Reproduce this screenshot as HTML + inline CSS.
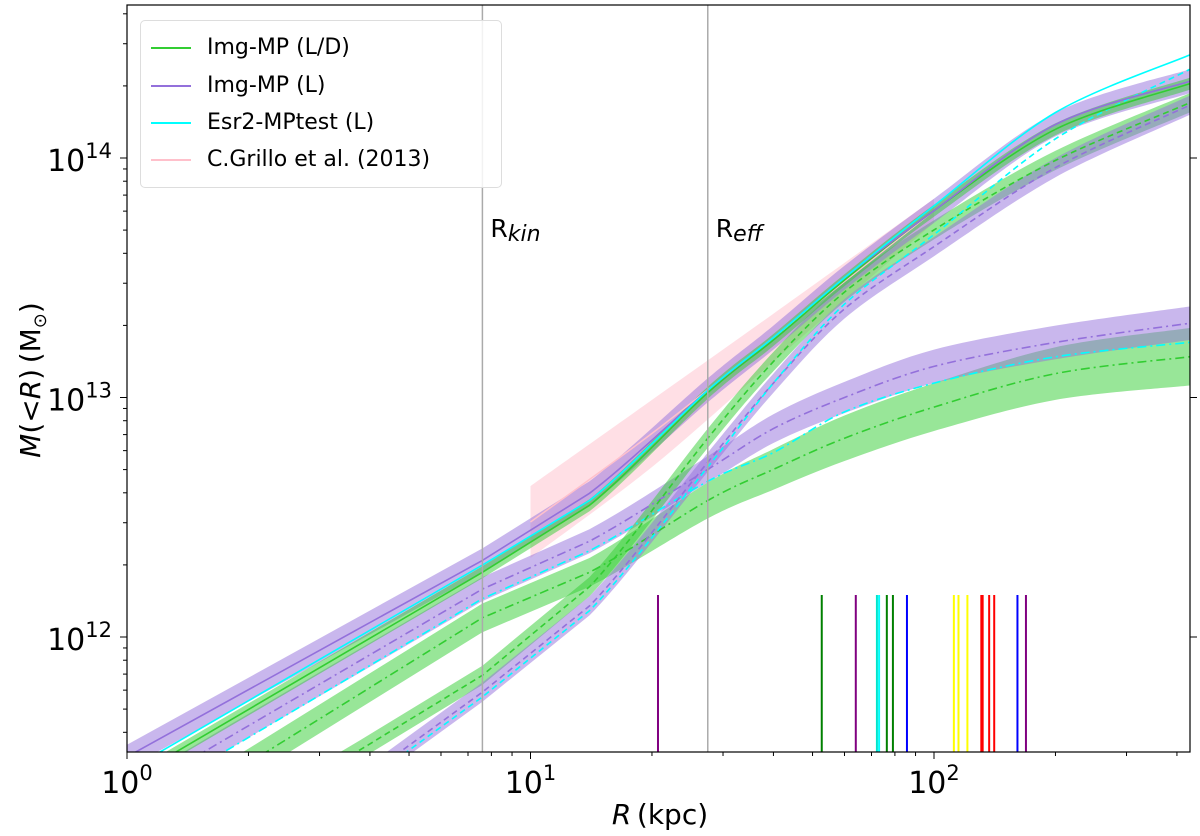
<!DOCTYPE html>
<html><head><meta charset="utf-8"><style>
html,body{margin:0;padding:0;background:#fff;width:1200px;height:836px;overflow:hidden;position:relative;}
svg{display:block;font-family:"DejaVu Sans","Liberation Sans",sans-serif;}
</style></head><body>
<svg id="chart" width="1200" height="836" viewBox="0 0 1200 836" style="position:absolute;left:0;top:0;">
<defs><clipPath id="clip"><rect x="127" y="5" width="1063" height="747"/></clipPath></defs>
<g id="plot" clip-path="url(#clip)"></g>
<g id="axes"></g>
</svg>
<script>
// ---- data (R in kpc, values are log10 M / Msun) ----
const solidR = [1, 7.6, 14, 27.5, 40, 60, 100, 200, 430];
const purpleSolid = [11.50, 12.32, 12.60, 13.03, 13.25, 13.50, 13.78, 14.14, 14.32];
const cyanSolid   = [11.44, 12.30, 12.57, 13.03, 13.25, 13.50, 13.80, 14.19, 14.43];
const greenSolid  = [11.40, 12.27, 12.55, 13.02, 13.24, 13.49, 13.78, 14.12, 14.31];

const dashR = [1, 3.79, 7.6, 14, 27.5, 40, 60, 100, 200, 430];
const greenDash  = [10.95, 11.53, 11.84, 12.21, 12.83, 13.15, 13.44, 13.70, 13.99, 14.23];
const purpleDash = [10.86, 11.40, 11.77, 12.13, 12.73, 13.06, 13.37, 13.63, 13.96, 14.22];
const cyanDash   = [10.84, 11.38, 11.75, 12.11, 12.71, 13.06, 13.39, 13.68, 14.08, 14.37];

const ddR = [1, 1.7, 7.6, 14, 27.5, 40, 60, 100, 200, 430];
const purpleDD = [11.33, 11.56, 12.20, 12.40, 12.70, 12.87, 13.00, 13.13, 13.23, 13.31];
const cyanDD   = [11.29, 11.51, 12.16, 12.36, 12.65, 12.77, 12.94, 13.06, 13.17, 13.23];
const greenDD  = [11.21, 11.40, 12.08, 12.27, 12.57, 12.70, 12.83, 12.96, 13.10, 13.17];
const purpleDDwidth = [0.05, 0.05, 0.05, 0.05, 0.055, 0.06, 0.065, 0.07, 0.07, 0.07];
const greenDDwidth  = [0.06, 0.06, 0.06, 0.06, 0.075, 0.085, 0.095, 0.1, 0.11, 0.12];

const grilloR = [10, 20, 40, 100];
const grilloC = [12.48, 12.85, 13.25, 13.78];
const grilloW = [0.15, 0.14, 0.10, 0.05];

const refR = [7.6, 27.5];
const refLabels = ["kin", "eff"];
const markerR = [20.7, 52.7, 64.0, 72.2, 73.1, 76.4, 79.1, 85.7, 112, 115, 121, 131, 132, 137, 141, 161, 169];
const markerColors = ["purple","green","purple","#00e5cc","cyan","green","green","blue","yellow","yellow","yellow","red","red","red","red","blue","purple"];

const xTicks = [0, 1, 2];
const yTicks = [12, 13, 14];

// ---- axes ----
const X0 = 127, XD = 403.5, Y14 = 158, YD = 239.5;
const xs = r => X0 + Math.log10(r) * XD;
const ys = lm => Y14 - (lm - 14) * YD;
const XK = xs(14.5);
const NS = "http://www.w3.org/2000/svg";
const plot = document.getElementById('plot');
const axes = document.getElementById('axes');
function mk(tag, attrs, parent) {
  const e = document.createElementNS(NS, tag);
  for (const k in attrs) e.setAttribute(k, attrs[k]);
  parent.appendChild(e);
  return e;
}
// straight segments at small R, smooth (Catmull-Rom) beyond
function smooth(pts, start) {
  let d = (start ? 'M' : 'L') + pts[0][0].toFixed(1) + ',' + pts[0][1].toFixed(1);
  for (let i = 0; i < pts.length - 1; i++) {
    const p1 = pts[i], p2 = pts[i + 1];
    if (Math.max(p1[0], p2[0]) <= XK) { d += 'L' + p2[0].toFixed(1) + ',' + p2[1].toFixed(1); continue; }
    const p0 = pts[Math.max(0, i - 1)], p3 = pts[Math.min(pts.length - 1, i + 2)];
    const t = 0.16;
    const c1 = [p1[0] + (p2[0] - p0[0]) * t, p1[1] + (p2[1] - p0[1]) * t];
    const c2 = [p2[0] - (p3[0] - p1[0]) * t, p2[1] - (p3[1] - p1[1]) * t];
    d += 'C' + c1[0].toFixed(1) + ',' + c1[1].toFixed(1) + ' ' + c2[0].toFixed(1) + ',' + c2[1].toFixed(1) + ' ' + p2[0].toFixed(1) + ',' + p2[1].toFixed(1);
  }
  return d;
}
const pts = (R, V) => R.map((r, i) => [xs(r), ys(V[i])]);
function band(R, V, W, color, name) {
  const w = i => Array.isArray(W) ? W[i] : W;
  const hi = pts(R, V.map((v, i) => v + w(i)));
  const lo = pts(R, V.map((v, i) => v - w(i))).reverse();
  const p = mk('path', {d: smooth(hi, true) + smooth(lo, false) + 'Z', fill: color, 'fill-opacity': 0.5, stroke: 'none'}, plot);
  
  
}
function line(R, V, color, dash, name, wdt) {
  const p = mk('path', {d: smooth(pts(R, V), true), fill: 'none', stroke: color, 'stroke-width': wdt || 1.6, 'stroke-dasharray': dash || 'none'}, plot);
  
  
}
const G = '#32cd32', P = '#9370db', C = '#00ffff', K = '#ffc0cb';
band(grilloR, grilloC, grilloW, K, 'grillo-band');
band(ddR, greenDD, greenDDwidth, G, 'green-dashdot-band');
band(ddR, purpleDD, purpleDDwidth, P, 'purple-dashdot-band');
band(dashR, greenDash, 0.04, G, 'green-dashed-band');
band(dashR, purpleDash, 0.04, P, 'purple-dashed-band');
band(solidR, purpleSolid, 0.05, P, 'purple-solid-band');
band(solidR, greenSolid, 0.025, G, 'green-solid-band');
line(grilloR, grilloC, K, null, 'grillo-line', 1.5);
line(ddR, greenDD, G, '9,4,2,4', 'green-dashdot-line');
line(ddR, purpleDD, P, '9,4,2,4', 'purple-dashdot-line');
line(ddR, cyanDD, C, '9,4,2,4', 'cyan-dashdot-line');
line(dashR, greenDash, G, '6,4', 'green-dashed-line');
line(dashR, purpleDash, P, '6,4', 'purple-dashed-line');
line(dashR, cyanDash, C, '6,4', 'cyan-dashed-line');
line(solidR, greenSolid, G, null, 'green-solid-line');
line(solidR, purpleSolid, P, null, 'purple-solid-line');
line(solidR, cyanSolid, C, null, 'cyan-solid-line');
refR.forEach((r, i) => {
  const l = mk('line', {x1: xs(r), x2: xs(r), y1: 5, y2: 752, stroke: '#aaa', 'stroke-width': 1.5}, plot);
  
  
  const t = mk('text', {x: xs(r) + 8, y: 237, 'font-size': 25, fill: '#000'}, axes);
  
  
  t.textContent = 'R';
  const s = mk('tspan', {'font-style': 'italic', 'font-size': 22, dy: 4}, t);
  s.textContent = refLabels[i];
});
markerR.forEach((r, i) => {
  const l = mk('line', {x1: xs(r), x2: xs(r), y1: 595, y2: 752, stroke: markerColors[i], 'stroke-width': 2}, plot);
  
  
});
const fr = mk('rect', {x: 127, y: 5, width: 1063, height: 747, fill: 'none', stroke: '#000', 'stroke-width': 1.2}, axes);


for (let d = 0; d <= 2; d++) for (let m = 1; m <= 9; m++) {
  const x = X0 + (d + Math.log10(m)) * XD;
  if (x > 1190) continue;
  mk('line', {x1: x, x2: x, y1: 752, y2: 752 + (m === 1 ? 7 : 4), stroke: '#000', 'stroke-width': 1}, axes);
}
xTicks.forEach(d => {
  const t = mk('text', {x: X0 + d * XD, y: 793, 'text-anchor': 'middle', 'font-size': 30}, axes);
  
  
  t.textContent = '10';
  const s = mk('tspan', {dy: -13, 'font-size': 21}, t); s.textContent = String(d);
});
for (let d = 11; d <= 14; d++) for (let m = 1; m <= 9; m++) {
  const y = Y14 - (d + Math.log10(m) - 14) * YD;
  if (y < 5 || y > 752) continue;
  const L = m === 1 ? 7 : 4;
  mk('line', {x1: 127 - L, x2: 127, y1: y, y2: y, stroke: '#000', 'stroke-width': 1}, axes);
  if (m === 1) mk('line', {x1: 1190, x2: 1197, y1: y, y2: y, stroke: '#000', 'stroke-width': 1}, axes);
}
yTicks.forEach(d => {
  const t = mk('text', {x: 112, y: ys(d) + 13, 'text-anchor': 'end', 'font-size': 30}, axes);
  
  
  t.textContent = '10';
  const s = mk('tspan', {dy: -13, 'font-size': 21}, t); s.textContent = String(d);
});
const xt = mk('text', {x: 660, y: 824, 'text-anchor': 'middle', 'font-size': 28}, axes);


const xt1 = mk('tspan', {'font-style': 'italic'}, xt); xt1.textContent = 'R';
const xt2 = mk('tspan', {}, xt); xt2.textContent = '\u2009(kpc)';
const yt = mk('text', {x: 0, y: 0, 'text-anchor': 'middle', 'font-size': 28, transform: 'translate(40,380) rotate(-90)'}, axes);


const y1 = mk('tspan', {'font-style': 'italic'}, yt); y1.textContent = 'M';
const y2 = mk('tspan', {}, yt); y2.textContent = '(<';
const y3 = mk('tspan', {'font-style': 'italic'}, yt); y3.textContent = 'R';
const y4 = mk('tspan', {}, yt); y4.textContent = ')\u2009(M';
const y5 = mk('tspan', {'font-size': 18, dy: 6}, yt); y5.textContent = '\u2299';
const y6 = mk('tspan', {dy: -6}, yt); y6.textContent = ')';
</script>
<div style="position:absolute;left:140px;top:20px;width:360px;height:166px;border:1px solid #ddd;border-radius:5px;background:rgba(255,255,255,0.85);font:22px 'DejaVu Sans','Liberation Sans',sans-serif;line-height:26px;">
  <div style="position:absolute;left:10px;top:14px;white-space:nowrap;"><span style="display:inline-block;width:40px;height:2px;background:#32cd32;vertical-align:middle;margin-right:16px;"></span>Img-MP (L/D)</div>
  <div style="position:absolute;left:10px;top:52px;white-space:nowrap;"><span style="display:inline-block;width:40px;height:2px;background:#9370db;vertical-align:middle;margin-right:16px;"></span>Img-MP (L)</div>
  <div style="position:absolute;left:10px;top:89px;white-space:nowrap;"><span style="display:inline-block;width:40px;height:2px;background:#00ffff;vertical-align:middle;margin-right:16px;"></span>Esr2-MPtest (L)</div>
  <div style="position:absolute;left:10px;top:126px;white-space:nowrap;"><span style="display:inline-block;width:40px;height:2px;background:#ffc0cb;vertical-align:middle;margin-right:16px;"></span>C.Grillo et al. (2013)</div>
</div>
</body></html>
